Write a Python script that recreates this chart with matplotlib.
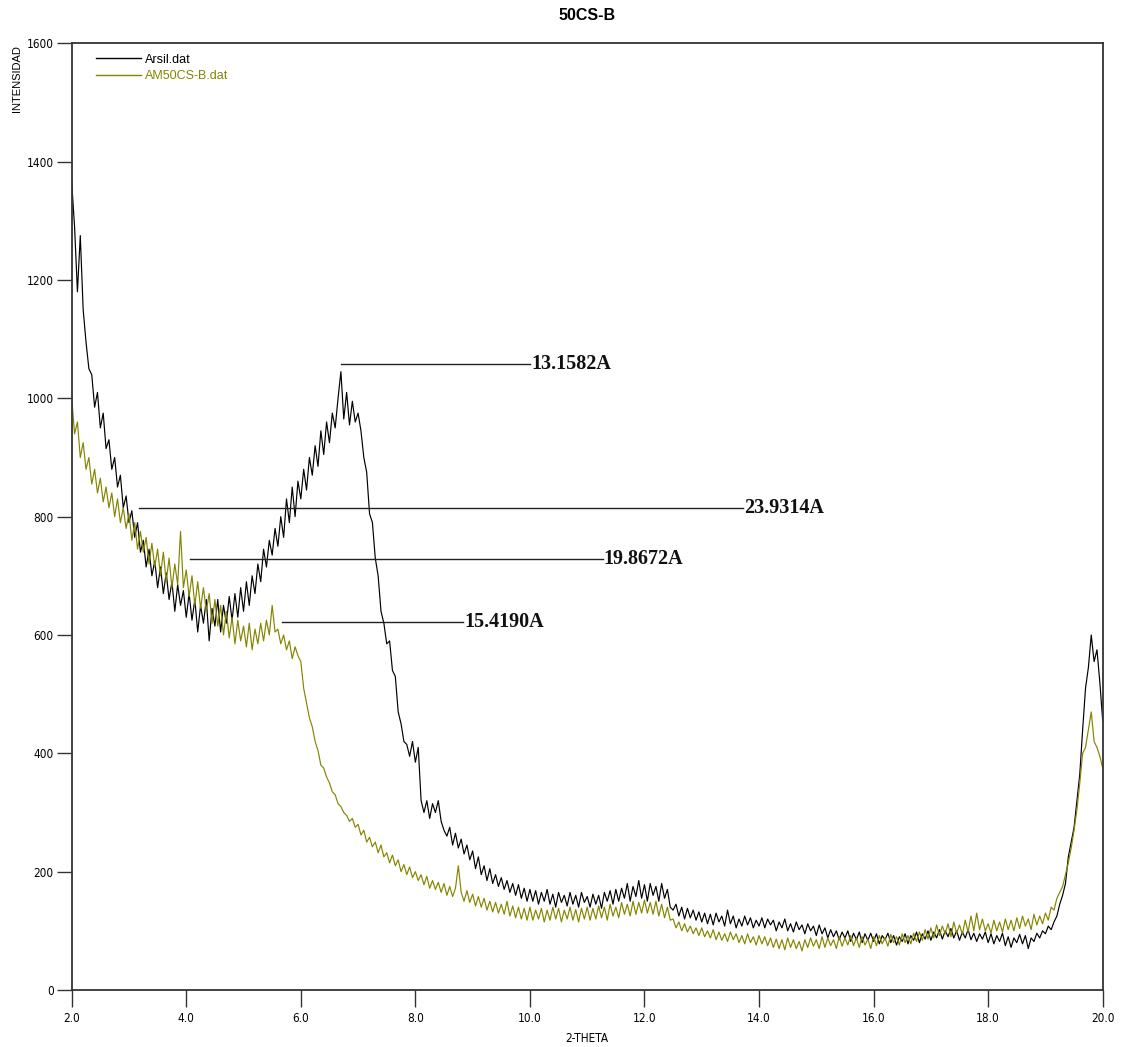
import numpy as np
import matplotlib
matplotlib.use("Agg")
import matplotlib.pyplot as plt

# ---------------- data ----------------
two_theta = np.round(2.0 + 0.05 * np.arange(361), 2)

arsil = (
    [1365,1290,1180,1275,1150,1095,1050,1040,985,1010,950,975,915,930,880,900,850,870,815,835]
  + [790,810,765,790,740,760,715,745,700,725,680,715,670,705,660,690,640,685,650,675]
  + [630,670,625,660,605,650,620,660,590,645,615,660,605,650,620,665,625,670,630,680]
  + [640,690,650,700,670,720,690,745,715,760,735,780,750,800,765,830,790,850,800,860]
  + [830,880,845,900,870,920,885,945,905,960,925,975,950,1000,1045,965,1010,955,995,960]
  + [975,945,900,875,805,790,730,700,640,620,585,590,540,530,470,450,420,415,395,420]
  + [385,410,320,300,320,290,315,300,320,285,270,260,275,245,265,240,255,230,245,220]
  + [235,205,225,195,210,185,205,180,195,175,190,170,185,165,180,160,178,155,172,150]
  + [170,150,168,145,165,150,170,145,162,140,165,148,160,142,165,145,160,140,165,148]
  + [158,140,162,145,160,138,165,150,168,145,170,150,172,155,180,150,175,158,185,155]
  + [178,150,180,160,175,150,180,155,170,140,135,145,125,140,120,138,122,135,118,132]
  + [115,130,112,128,110,130,115,125,108,135,112,125,105,120,108,125,110,122,105,118]
  + [108,122,105,120,110,118,100,115,105,120,100,112,98,115,102,110,95,112,100,108]
  + [92,110,95,105,88,102,90,100,85,98,88,100,82,96,85,98,80,95,84,96]
  + [82,95,78,92,85,96,80,92,76,90,82,95,78,92,84,98,80,95,86,100]
  + [84,98,88,102,86,100,90,104,88,100,84,98,88,102,85,96,82,95,86,98]
  + [80,95,78,92,82,96,75,90,72,88,80,94,78,92,70,88,82,96,88,100]
  + [95,108,102,115,125,145,160,180,225,250,275,320,365,440,510,545,600,555,575,520]
  + [455]
)

am50csb = (
    [1000,940,960,900,925,880,900,855,880,840,865,825,850,815,840,800,830,790,815,780]
  + [805,760,790,745,775,740,765,720,755,715,745,700,740,690,730,680,720,685,775,680]
  + [710,665,700,650,690,645,680,640,670,620,660,615,650,600,640,595,630,585,625,590]
  + [615,580,620,575,610,585,620,590,625,600,650,605,610,585,600,575,590,560,580,565]
  + [555,510,485,460,445,420,405,380,375,360,350,335,330,315,310,300,295,285,290,275]
  + [280,262,270,250,258,242,250,232,245,225,232,215,228,210,220,200,212,195,208,190]
  + [200,185,195,178,192,172,185,170,182,165,180,160,175,158,172,210,165,150,168,148]
  + [162,142,158,140,155,135,150,132,148,130,145,128,150,125,142,122,140,120,138,118]
  + [140,118,135,120,138,115,135,118,140,120,138,115,135,120,140,118,136,115,138,120]
  + [140,118,138,120,142,122,140,118,145,125,140,122,148,128,145,125,150,128,148,130]
  + [152,130,148,128,150,125,145,122,140,118,120,105,115,100,112,98,108,95,105,92]
  + [105,90,100,88,102,85,98,84,95,82,98,85,95,80,92,78,95,80,90,76]
  + [92,78,90,75,88,72,86,70,85,68,88,72,85,70,82,66,85,72,88,74]
  + [85,70,90,72,88,75,85,70,90,74,88,76,92,75,88,72,90,76,86,70]
  + [90,75,92,78,88,74,94,80,90,76,95,80,92,78,96,82,98,84,102,86]
  + [105,88,110,92,108,95,112,90,115,96,110,94,118,98,125,100,130,102,120,100]
  + [112,96,118,100,115,98,120,102,118,100,122,104,125,108,120,102,128,110,125,112]
  + [130,118,140,135,155,165,175,195,215,240,270,305,350,400,410,440,470,420,410,395]
  + [375]
)

series_names = ["Arsil.dat", "AM50CS-B.dat"]
peak_labels = ["13.1582A", "23.9314A", "19.8672A", "15.4190A"]
peak_start = [6.70, 3.17, 4.07, 5.67]
peak_end = [10.0, 13.72, 11.27, 8.83]
peak_level = [1058, 815, 728, 622]

x_ticks = [2, 4, 6, 8, 10, 12, 14, 16, 18, 20]
x_tick_labels = ["2.0", "4.0", "6.0", "8.0", "10.0", "12.0", "14.0", "16.0", "18.0", "20.0"]
y_ticks = [0, 200, 400, 600, 800, 1000, 1200, 1400, 1600]

assert len(arsil) == len(two_theta) == len(am50csb)

# ---------------- figure ----------------
W, H = 1123, 1047
fig = plt.figure(figsize=(W / 100, H / 100), dpi=100)
ax = fig.add_axes([71.7 / W, 1 - 990 / H, (1102.7 - 71.7) / W, (990 - 43.3) / H])

black = "#000000"
olive = "#858500"

ax.plot(two_theta, arsil, color=black, lw=0.85, label=series_names[0])
ax.plot(two_theta, am50csb, color=olive, lw=0.85, label=series_names[1])

serif = ["Liberation Serif", "DejaVu Serif"]
for lab, xs, xe, yl in zip(peak_labels, peak_start, peak_end, peak_level):
    ax.plot([xs, xe], [yl, yl], color="#222222", lw=1.0)
    ax.text(xe + 0.02, yl, lab, ha="left", va="center", fontsize=14.5,
            family=serif, fontweight="bold", color="#111111")

ax.set_xlim(2, 20)
ax.set_ylim(0, 1600)
ax.set_xticks(x_ticks)
ax.set_xticklabels(x_tick_labels)
ax.set_yticks(y_ticks)

for lbl in ax.get_xticklabels() + ax.get_yticklabels():
    lbl.set_family("DejaVu Sans")
    lbl.set_stretch("condensed")
    lbl.set_fontsize(8.5)

ax.tick_params(axis="y", direction="out", length=11, width=1, pad=2, color="#333333")
ax.tick_params(axis="x", direction="out", length=12.5, width=1, pad=3, color="#333333")
for s in ax.spines.values():
    s.set_linewidth(1.3)
    s.set_color("#333333")

leg = ax.legend(loc="upper left", bbox_to_anchor=(0.024, 0.989), frameon=False,
                handlelength=3.6, handletextpad=0.32, labelspacing=0.35,
                borderpad=0, borderaxespad=0, labelcolor="linecolor",
                prop={"family": ["Liberation Sans", "DejaVu Sans"], "size": 9})
for h in leg.get_lines():
    h.set_linewidth(1.0)

fig.text(587 / W, 1 - 16 / H, "50CS-B", ha="center", va="center",
         fontsize=11.5, fontweight="bold", family=["Liberation Sans", "DejaVu Sans"])
fig.text(17 / W, 1 - 45 / H, "INTENSIDAD", ha="center", va="top", rotation=90,
         fontsize=8, family=["Liberation Sans", "DejaVu Sans"])
t = fig.text(587 / W, 1 - 1038 / H, "2-THETA", ha="center", va="center",
             fontsize=8.5, family="DejaVu Sans")
t.set_stretch("condensed")

fig.savefig("out.png", dpi=100, facecolor="white")
